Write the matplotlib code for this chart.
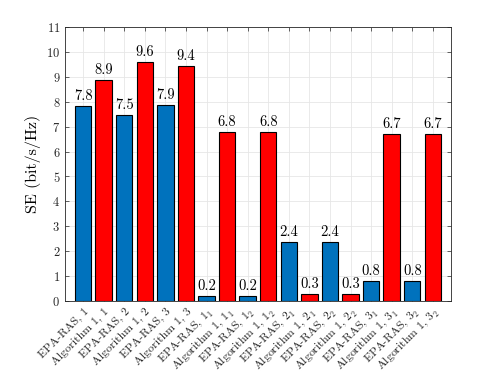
import matplotlib
matplotlib.use("Agg")
import matplotlib.pyplot as plt
import matplotlib.transforms as mtransforms
import numpy as np

plt.rcParams['font.family'] = 'cmr10'
plt.rcParams['mathtext.fontset'] = 'cm'
plt.rcParams['axes.formatter.use_mathtext'] = True

labels = ['EPA-RAS, 1', 'Algorithm 1, 1', 'EPA-RAS, 2', 'Algorithm 1, 2',
          'EPA-RAS, 3', 'Algorithm 1, 3',
          'EPA-RAS, $1_1$', 'Algorithm 1, $1_1$', 'EPA-RAS, $1_2$', 'Algorithm 1, $1_2$',
          'EPA-RAS, $2_1$', 'Algorithm 1, $2_1$', 'EPA-RAS, $2_2$', 'Algorithm 1, $2_2$',
          'EPA-RAS, $3_1$', 'Algorithm 1, $3_1$', 'EPA-RAS, $3_2$', 'Algorithm 1, $3_2$']
values = [7.82, 8.86, 7.47, 9.6, 7.87, 9.43,
          0.2, 6.8, 0.2, 6.8,
          2.38, 0.3, 2.38, 0.3,
          0.8, 6.72, 0.8, 6.72]
value_text = ['7.8', '8.9', '7.5', '9.6', '7.9', '9.4',
              '0.2', '6.8', '0.2', '6.8',
              '2.4', '0.3', '2.4', '0.3',
              '0.8', '6.7', '0.8', '6.7']
colors = ['#0072BD' if i % 2 == 0 else '#FF0000' for i in range(len(values))]

fig = plt.figure(figsize=(4.98, 3.74), dpi=100)
ax = fig.add_axes([0.1305, 0.195, 0.775, 0.733])
x = np.arange(1, len(values) + 1)
ax.bar(x, values, width=0.8, color=colors, edgecolor='black', linewidth=0.8, zorder=3)
for xi, v, t in zip(x, values, value_text):
    ax.text(xi, v + 0.12, t, ha='center', va='bottom', fontsize=10.5, zorder=4)

ax.set_xlim(0.12, 18.88)
ax.set_ylim(0, 11)
ax.set_yticks(range(0, 12))
ax.set_xticks(x)
ax.set_xticklabels(labels, rotation=45, ha='right', rotation_mode='anchor', fontsize=8.5)
offset = mtransforms.ScaledTranslation(7 / 100, 0, fig.dpi_scale_trans)
for lab in ax.get_xticklabels():
    lab.set_transform(lab.get_transform() + offset)
ax.tick_params(axis='y', labelsize=9)
ax.tick_params(direction='in', length=3, width=0.5, color='#262626',
               top=True, right=True, labelcolor='#262626')
ax.grid(True, color='#e6e6e6', linewidth=0.6, zorder=0)
ax.set_axisbelow(True)
for s in ax.spines.values():
    s.set_color('#262626')
    s.set_linewidth(0.6)
ax.set_ylabel('SE (bit/s/Hz)', fontsize=11.5)
fig.savefig('out.png', dpi=100)
